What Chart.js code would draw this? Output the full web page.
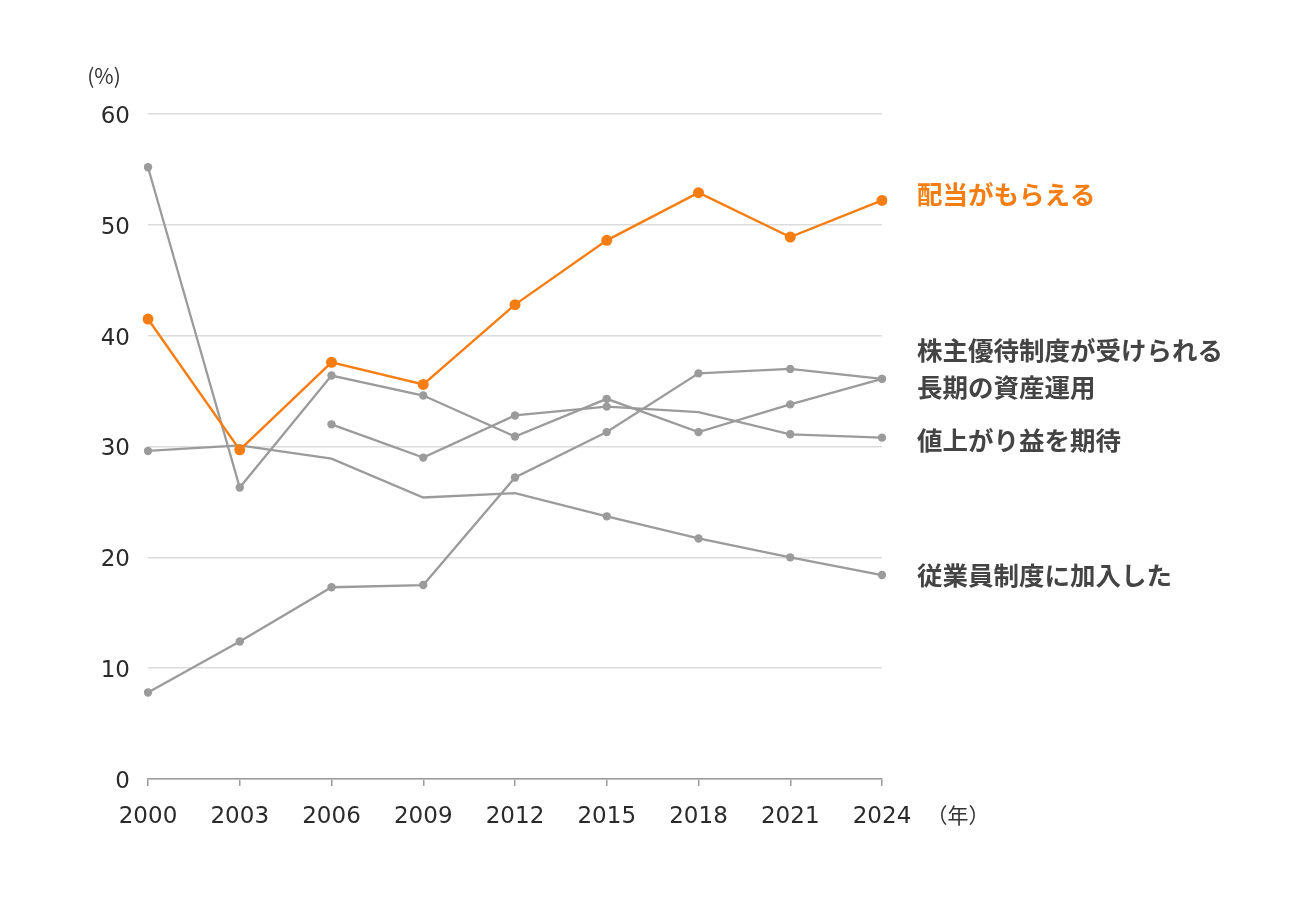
<!DOCTYPE html>
<html>
<head>
<meta charset="utf-8">
<script src="https://cdn.jsdelivr.net/npm/chart.js@4.4.1/dist/chart.umd.min.js"></script>
<style>
  html, body { margin: 0; padding: 0; background: #fff; }
  #wrap { width: 1290px; height: 918px; }
</style>
</head>
<body>
<div id="wrap"><canvas id="myChart"></canvas></div>
<script>
const years = ['2000', '2003', '2006', '2009', '2012', '2015', '2018', '2021', '2024'];
const haitou = [41.5, 29.7, 37.6, 35.6, 42.8, 48.6, 52.9, 48.9, 52.2];
const yutai = [7.8, 12.4, 17.3, 17.5, 27.2, 31.3, 36.6, 37.0, 36.1];
const chouki = [55.2, 26.3, 36.4, 34.6, 30.9, 34.3, 31.3, 33.8, 36.1];
const neagari = [null, null, 32.0, 29.0, 32.8, 33.6, 33.1, 31.1, 30.8];
const juugyouin = [29.6, 30.1, 28.9, 25.4, 25.8, 23.7, 21.7, 20.0, 18.4];
// 点を打つかどうか（1=あり）
const neagariDots = [0, 0, 1, 1, 1, 1, 0, 1, 1];
const juugyouinDots = [1, 0, 0, 0, 0, 1, 1, 1, 1];

const seriesNames = ['配当がもらえる', '株主優待制度が受けられる', '長期の資産運用', '値上がり益を期待', '従業員制度に加入した'];

const ORANGE = '#f67d12';
const GRAY = '#9b9b9b';
const FONT = "'Noto Sans CJK JP', 'Noto Sans', sans-serif";
const NUMFONT = "'DejaVu Sans', sans-serif";

function grayLine(label, data, dots) {
  return {
    label: label,
    data: data,
    borderColor: GRAY,
    backgroundColor: GRAY,
    borderWidth: 2.3,
    pointRadius: dots ? dots.map(d => d ? 4.2 : 0) : 4.2,
    pointBorderWidth: 0,
    order: 2,
  };
}

// 右側のラベルと軸の単位
const textPlugin = {
  id: 'textPlugin',
  afterDraw(chart) {
    const ctx = chart.ctx;
    ctx.save();
    ctx.textBaseline = 'middle';
    ctx.textAlign = 'left';
    ctx.font = 'bold 25.5px ' + FONT;
    ctx.fillStyle = ORANGE;
    ctx.fillText(seriesNames[0], 917, 194);
    ctx.fillStyle = '#444';
    ctx.fillText(seriesNames[1], 917, 350);
    ctx.fillText(seriesNames[2], 917, 387);
    ctx.fillText(seriesNames[3], 917, 440);
    ctx.fillText(seriesNames[4], 917, 575);
    ctx.font = '21px ' + FONT;
    ctx.fillStyle = '#333';
    ctx.textAlign = 'center';
    ctx.fillText('(%)', 104, 76);
    ctx.fillText('（年）', 958, 815);
    ctx.restore();
  }
};

const config = {
  type: 'line',
  data: {
    labels: years,
    datasets: [
      {
        label: seriesNames[0],
        data: haitou,
        borderColor: ORANGE,
        backgroundColor: ORANGE,
        borderWidth: 2.4,
        pointRadius: 5.5,
        pointBorderWidth: 0,
        order: 1,
      },
      grayLine(seriesNames[1], yutai),
      grayLine(seriesNames[2], chouki),
      grayLine(seriesNames[3], neagari, neagariDots),
      grayLine(seriesNames[4], juugyouin, juugyouinDots),
    ],
  },
  options: {
    responsive: true,
    maintainAspectRatio: false,
    animation: false,
    spanGaps: false,
    layout: {
      padding: { top: 114, right: 408, bottom: 0, left: 0 },
    },
    plugins: {
      legend: { display: false },
      tooltip: { enabled: false },
      title: { display: false },
    },
    scales: {
      x: {
        offset: false,
        grid: {
          drawOnChartArea: false,
          drawTicks: true,
          tickLength: 7,
          color: GRAY,
          lineWidth: 1.5,
        },
        border: { display: true, color: GRAY, width: 1.5 },
        ticks: {
          color: '#2a2a2a',
          font: { size: 23, family: NUMFONT },
          padding: 17,
          maxRotation: 0,
          autoSkip: false,
        },
        afterFit(scale) { scale.height = 139; },
      },
      y: {
        min: 0,
        max: 60,
        ticks: {
          stepSize: 10,
          color: '#2a2a2a',
          font: { size: 23, family: NUMFONT },
          padding: 18,
          labelOffset: 3,
        },
        grid: { color: '#dcdcdc', lineWidth: 1.5, drawTicks: false },
        border: { display: false },
        afterFit(scale) { scale.width = 148; },
      },
    },
  },
  plugins: [textPlugin],
};

var myChart = new Chart(document.getElementById('myChart'), config);
</script>
</body>
</html>
